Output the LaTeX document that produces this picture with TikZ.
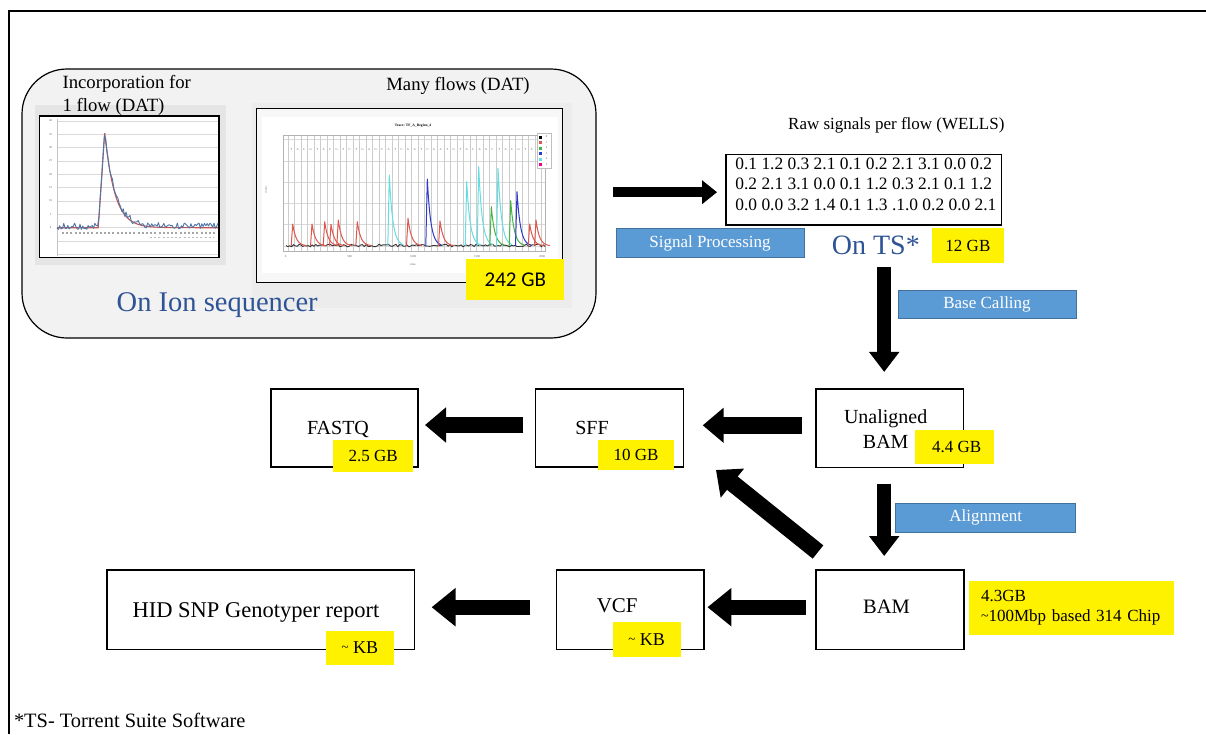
\documentclass[tikz,border=0pt]{standalone}
\usepackage{fontspec}
\setmainfont{Liberation Serif}
\newfontfamily\calibrifont{Carlito}
\usetikzlibrary{arrows.meta}

\definecolor{seqblue}{RGB}{47,84,150}
\definecolor{stepfill}{RGB}{91,155,213}
\definecolor{stepline}{RGB}{65,113,156}
\definecolor{panelgrey}{RGB}{242,242,242}
\definecolor{chartgrey}{RGB}{229,229,229}
\definecolor{tred}{RGB}{222,88,78}
\definecolor{tcyan}{RGB}{100,222,228}
\definecolor{tblue}{RGB}{48,58,200}
\definecolor{tgreen}{RGB}{72,178,72}
\definecolor{tnoise}{RGB}{78,118,168}
\definecolor{tsmooth}{RGB}{190,85,85}

\newcommand\fsz[2]{\fontsize{#1}{#2}\selectfont}

\tikzset{
  every node/.style={inner sep=0pt, outer sep=0pt},
  filebox/.style={draw=black, line width=1.2pt, fill=white},
  boxtext/.style={font=\fsz{20}{25}, align=center},
  sizetag/.style={fill=yellow, font=\fsz{17}{20}},
  steplabel/.style={draw=stepline, line width=0.8pt, fill=stepfill, text=white, font=\fsz{17}{20}},
  fatarrow/.style n args={3}{draw=black, line width=#1, -{Triangle[length=#2,width=#3]}},
  caption/.style={font=\fsz{18.7}{22.7}},
  bigblue/.style={text=seqblue},
  tiny/.style={font=\fsz{3}{3.5}, text=gray!80!black},
}

\begin{document}
\begin{tikzpicture}[x=1pt, y=-1pt,
  declare function={incf(\t)=ifthenelse(\t<98.3,227.7,ifthenelse(\t<104.7,227.7-95.4*(\t-98.3)/6.4,227.7-95.4*exp(-(\t-104.7)/10)));}]
\useasboundingbox (0,0) rectangle (1206,734);

% page frame (top and left rules)
\draw[line width=1.5pt] (9,734) -- (9,11) -- (1206,11);

% ---------- sequencer panel ----------
\node[draw=black, line width=1.2pt, fill=panelgrey, rounded corners=45pt,
      minimum width=574pt, minimum height=269pt] (seq) at (309,203.5) {};

% single-flow incorporation chart
\fill[chartgrey] (35,105) rectangle (226,265);
\draw[line width=1.3pt, fill=white] (39.5,116) rectangle (219,257.3);
\foreach \i in {0,...,10}
  \draw[gray!30, line width=0.5pt] (57,{121+\i*13.33}) -- (218,{121+\i*13.33});
\draw[gray!45, line width=0.5pt] (57,119) -- (57,256);
\foreach \v [count=\i from 0] in {40,35,...,0}
  \node[tiny] at (50.5,{121+\i*13.33}) {\v};
\draw[gray!70, line width=1.1pt, dash pattern=on 2pt off 2.2pt] (62,233) -- (216,233);
\draw[gray!55, line width=0.9pt, dash pattern=on 2pt off 2.2pt] (150,237) -- (214,237);
\draw[tsmooth, line width=1.1pt] plot[domain=57:218, samples=220] (\x,{incf(\x)});
\pgfmathsetseed{17}
\draw[tnoise, line width=0.9pt, line join=round]
  plot[domain=57:218, samples=120] (\x,{incf(\x)-1.5-3.2*rand});

% many-flows trace chart
\fill[chartgrey!75] (251.5,102.7) rectangle (572,308);
\draw[line width=1.5pt, fill=gray!6] (256.7,108.3) rectangle (562.7,282.7);
\fill[white] (262,117) rectangle (558,273);
\node[font=\bfseries\fsz{3.6}{4}] at (413,126) {Trace: TF\_A\_Region\_4};
\foreach \yy in {139,160.7,181.7,203,224,245.7}
  \draw[gray!30, line width=0.4pt] (283,\yy) -- (545,\yy);
\foreach \i in {0,...,39}
  \draw[gray!40, line width=0.4pt] ({288+\i*6.5},135) -- ({288+\i*6.5},251);
\draw[gray!60, line width=0.5pt] (283,135) rectangle (545,251);
\foreach \ch [count=\i from 0] in {T,A,C,G,T,A,C,G,T,C,T,G,A,G,C,A,T,C,G,A,T,C,G,A,T,G,T,A,C,A,G,C,T,A,C,G,T,A,C,G}
  \node[tiny] at ({291.2+\i*6.5},150) {\ch};
\foreach \v/\xx in {0/285.7,500/349.7,1000/413,1500/477,2000/542}
  \node[tiny] at (\xx,256.5) {\v};
\node[tiny] at (413,265) {time};
\node[tiny, rotate=90] at (266,190) {count};
\pgfmathsetseed{5}
\draw[black!80, line width=0.9pt] plot[domain=286:545, samples=140] (\x,{245.5-1.3*rand});
\foreach \px/\py/\col in {292.7/224/tred,312/224/tred,324.7/221.7/tred,331/224.3/tred,
    338.3/220/tred,357.3/221.7/tred,389.3/175/tcyan,408/218.3/tred,427.3/179/tblue,
    440/221/tred,466.7/181.7/tcyan,478.7/166.7/tcyan,491.3/206.7/tgreen,498/168.3/tcyan,
    510.7/200.7/tgreen,517/191.7/tblue,529.7/224/tred,536/220/tred}
  \draw[\col, line width=1pt, line join=round] ({\px-1.5},246) -- (\px,\py)
     -- plot[domain=0:14, samples=22] ({\px+\x},{246-(246-\py)*exp(-\x/3.5)});
\draw[gray!50, line width=0.4pt, fill=white] (537,133) rectangle (551,168);
\foreach \col [count=\i from 0] in {black,tred,tgreen,tblue,tcyan,magenta} {
  \fill[\col] (539,{135.5+\i*5.5}) rectangle (542,{138.5+\i*5.5});
  \node[tiny] at (546.5,{137+\i*5.5}) {\i};
}

% panel captions
\node[caption, align=left, anchor=west] (inc) at (62.6,95.3) {Incorporation for\\1 flow (DAT)};
\node[caption] (many) at (458,86) {Many flows (DAT)};
\node[bigblue, font=\fsz{28.5}{32}] (ion) at (217.2,305) {On Ion sequencer};
\node[fill=yellow, minimum width=98pt, minimum height=41pt,
      font=\calibrifont\fsz{21}{24}] (dat) at (515.3,279.7) {242 GB};

% ---------- Torrent Suite side ----------
\node[font=\fsz{17}{20}] (rawcap) at (896.3,125) {Raw signals per flow (WELLS)};
\node[filebox, minimum width=275.7pt, minimum height=70.7pt,
      label={[font=\fsz{17.4}{20.4}, align=left, xshift=2pt, yshift=5.7pt]center:0.1 1.2 0.3 2.1 0.1 0.2 2.1 3.1 0.0 0.2\\0.2 2.1 3.1 0.0 0.1 1.2 0.3 2.1 0.1 1.2\\0.0 0.0 3.2 1.4 0.1 1.3 .1.0 0.2 0.0 2.1}]
      (wells) at (863.9,189.7) {};
\node[steplabel, minimum width=188pt, minimum height=29pt] (sigproc) at (710,243.2) {Signal Processing};
\node[bigblue, font=\fsz{28}{32}] (onts) at (875.8,245) {On TS*};
\node[sizetag, minimum width=72.3pt, minimum height=34.4pt] (wellsize) at (967.9,245.5) {12 GB};
\node[steplabel, minimum width=178pt, minimum height=28pt] (basecall) at (987,304) {Base Calling};

% file boxes
\node[filebox, minimum width=147.3pt, minimum height=78.7pt,
      label={[boxtext, xshift=-4pt, yshift=-0.8pt]center:Unaligned\\BAM}] (unal) at (889.7,428.3) {};
\node[filebox, minimum width=148.4pt, minimum height=78pt,
      label={[boxtext, xshift=-17.5pt]center:SFF}] (sff) at (609.5,428) {};
\node[filebox, minimum width=147pt, minimum height=78pt,
      label={[boxtext, xshift=-6.5pt, yshift=-1pt]center:FASTQ}] (fastq) at (344.5,428) {};
\node[steplabel, minimum width=180pt, minimum height=29pt] (align) at (985.7,517.8) {Alignment};
\node[filebox, minimum width=148pt, minimum height=79.3pt,
      label={[boxtext, font=\fsz{20.5}{25}, xshift=-3.5pt, yshift=3pt]center:BAM}] (bam) at (890,609.7) {};
\node[filebox, minimum width=147.5pt, minimum height=79.3pt,
      label={[boxtext, font=\fsz{21}{25}, xshift=-13pt, yshift=3.7pt]center:VCF}] (vcf) at (630.2,609.7) {};
\node[filebox, minimum width=307.6pt, minimum height=79.3pt,
      label={[boxtext, font=\fsz{22.5}{26}, xshift=-4.8pt, yshift=-3pt]center:HID SNP Genotyper report}] (hid) at (260.8,609.7) {};

% size tags
\node[sizetag, minimum width=79.3pt, minimum height=33.4pt] (unalsize) at (954.7,447) {\hspace*{4pt}4.4 GB};
\node[sizetag, minimum width=76pt, minimum height=30pt] (sffsize) at (636,455) {10 GB};
\node[sizetag, minimum width=79.7pt, minimum height=32pt] (fastqsize) at (373.2,456) {2.5 GB};
\node[sizetag, font=\fsz{17}{20.7}, align=left, text width=181pt, inner xsep=12pt,
      minimum height=54.3pt] (bamsize) at (1071.5,607.8) {4.3GB\\\raisebox{0.25ex}{\fsz{14}{14}\char`~}100Mbp based 314 Chip};
\node[sizetag, font=\fsz{18}{20}, minimum width=68.2pt, minimum height=34.4pt] (vcfsize) at (646.7,639.5) {\raisebox{0.25ex}{\fsz{13}{13}\char`~} KB};
\node[sizetag, font=\fsz{18}{20}, minimum width=67.5pt, minimum height=34pt] (hidsize) at (359.8,648) {\raisebox{0.25ex}{\fsz{13}{13}\char`~} KB};

% footnote
\node[font=\fsz{20.4}{24}, anchor=west] (foot) at (14,720) {*TS- Torrent Suite Software};

% ---------- flow arrows ----------
\coordinate (sp) at ([yshift=-2.5pt]wells.west);
\draw[fatarrow={10pt}{15pt}{23pt}, shorten <=17pt, shorten >=9pt] (sp -| seq.east) -- (sp);

\coordinate (bc) at ([xshift=-5.5pt]unal.north);
\draw[fatarrow={14pt}{20pt}{29pt}, shorten <=42pt, shorten >=17pt] (bc |- wells.south) -- (bc);

\coordinate (us) at ([yshift=3pt]unal.west);
\draw[fatarrow={16.5pt}{21pt}{34pt}, shorten <=14pt, shorten >=19pt] (us) -- (us -| sff.east);

\coordinate (sf) at ([yshift=3pt]sff.west);
\draw[fatarrow={16.5pt}{21pt}{34pt}, shorten <=12pt, shorten >=7pt] (sf) -- (sf -| fastq.east);

\coordinate (ub) at ([xshift=-5.5pt]unal.south);
\draw[fatarrow={14pt}{20pt}{29pt}, shorten <=16pt, shorten >=14pt] (ub) -- (ub |- bam.north);

\coordinate (dgtail) at (818,552);
\coordinate (dgtip) at (716,470);
\draw[fatarrow={17pt}{21pt}{36pt}] (dgtail) -- (dgtip);

\coordinate (bv) at ([yshift=2.5pt]bam.west);
\draw[fatarrow={15pt}{24pt}{37pt}, shorten <=10pt, shorten >=3.5pt] (bv) -- (bv -| vcf.east);

\coordinate (vh) at ([yshift=2.5pt]vcf.west);
\draw[fatarrow={15pt}{24pt}{37pt}, shorten <=26pt, shorten >=17pt] (vh) -- (vh -| hid.east);
\end{tikzpicture}
\end{document}
